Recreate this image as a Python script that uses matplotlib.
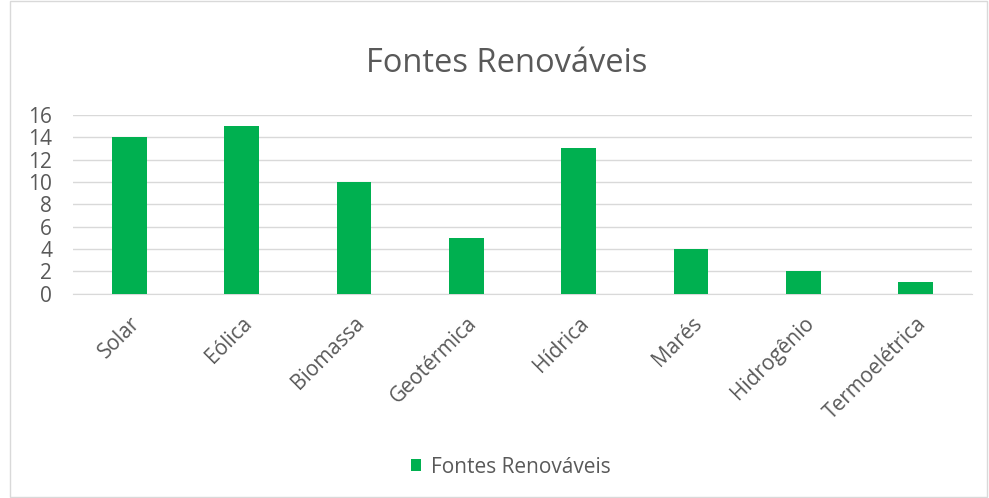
import matplotlib.pyplot as plt
from matplotlib.patches import Rectangle

categories = ['Solar', 'Eólica', 'Biomassa', 'Geotérmica', 'Hídrica', 'Marés', 'Hidrogênio', 'Termoelétrica']
values = [14, 15, 10, 5, 13, 4, 2, 1]
yticks = [0, 2, 4, 6, 8, 10, 12, 14, 16]
series_name = 'Fontes Renováveis'

green = '#00B050'
gray = '#595959'
plt.rcParams['font.family'] = ['Open Sans', 'DejaVu Sans']

fig = plt.figure(figsize=(9.89, 4.98), dpi=100)
ax = fig.add_axes([73 / 989, 1 - 293.5 / 498, 899 / 989, 178.5 / 498])

x = list(range(len(categories)))
ax.bar(x, values, width=0.31, color=green, label=series_name, zorder=3)
ax.set_xlim(-0.5, len(categories) - 0.5)
ax.set_ylim(0, 16)
ax.set_yticks(yticks)
ax.set_yticklabels([str(t) for t in yticks], fontsize=15, color=gray)
ax.set_xticks(x)
ax.set_xticklabels(categories, rotation=45, ha='right', va='top', rotation_mode='anchor',
                   fontsize=15, color=gray)
ax.tick_params(axis='both', length=0)
ax.tick_params(axis='x', pad=14)
ax.tick_params(axis='y', pad=15)
ax.grid(axis='y', color='#D9D9D9', linewidth=1, zorder=0)
for s in ['top', 'right', 'left']:
    ax.spines[s].set_visible(False)
ax.spines['bottom'].set_color('#D9D9D9')

fig.text(507 / 989, 1 - 72 / 498, 'Fontes Renováveis', ha='center', va='baseline', fontsize=23.5, color=gray)

fig.legend(loc='center', bbox_to_anchor=(511 / 989, 1 - 467 / 498), frameon=False, fontsize=15,
           handlelength=0.45, handleheight=0.45, handletextpad=0.5, labelcolor=gray)

fig.patches.append(Rectangle((10 / 989, 1 / 498), 977 / 989, 496 / 498, transform=fig.transFigure,
                             fill=False, edgecolor='#D9D9D9', linewidth=1))

fig.savefig('out.png', dpi=100)
